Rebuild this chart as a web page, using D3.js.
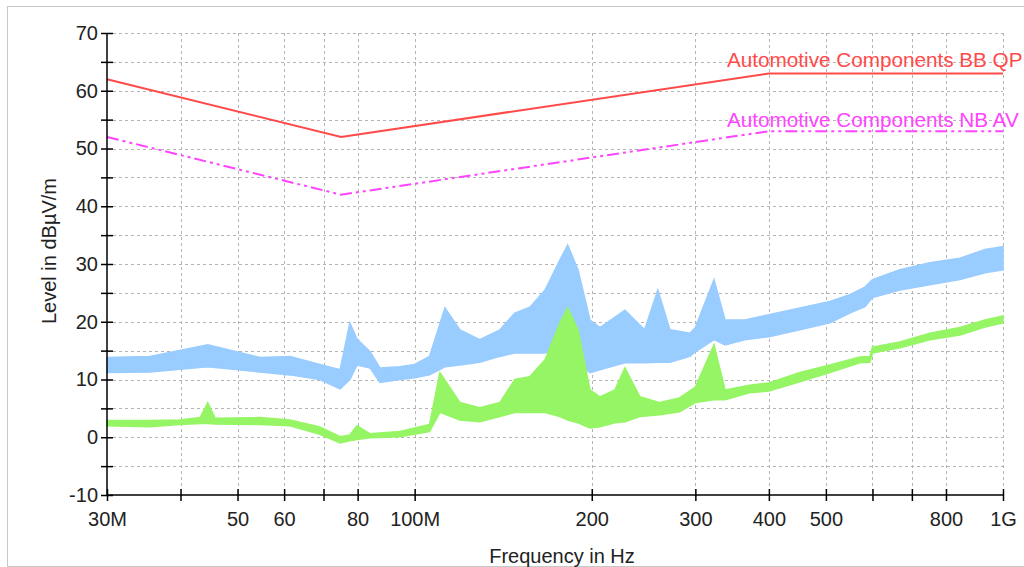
<!DOCTYPE html>
<html>
<head>
<meta charset="utf-8">
<script src="https://cdn.jsdelivr.net/npm/d3@7"></script>
<style>
  body { margin: 0; background: #fff; }
  svg { display: block; font-family: "Liberation Sans", Arial, sans-serif; }
</style>
</head>
<body>
<svg id="chart" width="1024" height="567"></svg>
<script>
// frequency ticks in MHz and their labels ("" = tick without label)
var xTicks = [30, 40, 50, 60, 70, 80, 100, 200, 300, 400, 500, 600, 700, 800, 1000];
var xTickLabels = ["30M", "", "50", "60", "", "80", "100M", "200", "300", "400", "500", "", "", "800", "1G"];
var yTicks = [-10, -5, 0, 5, 10, 15, 20, 25, 30, 35, 40, 45, 50, 55, 60, 65, 70];
var yTickLabels = ["-10", "", "0", "", "10", "", "20", "", "30", "", "40", "", "50", "", "60", "", "70"];

// limit lines
var limitFreq = [30, 75, 400, 1000];
var limitQP = [62, 52, 63, 63];
var limitAV = [52, 42, 53, 53];

// peak trace (blue): envelope of the noisy band
var peakFreq = [30, 35.5, 44.5, 54.6, 61.4, 69, 74.7, 77.6, 79.8, 84, 87.3, 94.4, 100, 106, 112.6, 119.4, 129, 139.6, 148, 157, 166.6, 176.6, 182, 189.5, 198.6, 206.5, 227.7, 246, 259, 271.6, 293.8, 300, 322.7, 337, 364, 400, 451.7, 508, 549, 582.5, 600, 668, 751, 845, 932, 1000];
var peakLo = [11.2, 11.3, 12.2, 11.3, 10.8, 10, 8.4, 10, 12.5, 12, 9.5, 10, 10.3, 10.8, 12.2, 12.5, 13, 14, 14.6, 14.6, 14.6, 15.7, 15.7, 12.9, 11.2, 11.7, 12.9, 12.9, 13, 13, 14, 14.8, 16.9, 16, 16.9, 17.4, 18.6, 19.8, 21.5, 22.6, 24.2, 25.5, 26.4, 27.3, 28.5, 29];
var peakHi = [13.8, 14, 16, 13.8, 14, 12.6, 11.7, 19.8, 17, 14.8, 12, 12.2, 12.6, 14, 22.4, 18.6, 16.9, 18.6, 21.5, 22.5, 25.5, 30.7, 33.3, 29, 20.3, 19, 22, 18.6, 25.5, 18.6, 18, 19, 27.3, 20.3, 20.3, 21.2, 22.4, 23.5, 24.7, 26, 27.3, 29, 30.2, 31, 32.5, 33];

// average trace (green): envelope of the noisy band
var avgFreq = [30, 35.5, 39.9, 43.2, 44.5, 45.8, 54.6, 61.4, 69, 74.7, 77.6, 79.8, 84, 94.4, 106, 110.4, 119.4, 129, 139.6, 148, 157, 166.6, 176.6, 182, 189.5, 198.6, 206.5, 219, 227.7, 241.5, 261, 282, 300, 322.7, 337, 371, 400, 451.7, 508, 571, 594, 600, 668, 751, 845, 932, 1000];
var avgLo = [2.0, 1.8, 2.2, 2.4, 2.4, 2.3, 2.2, 2.0, 0.5, -1, -0.6, -0.4, -0.1, 0.1, 1.0, 4.3, 3.0, 2.7, 3.6, 4.3, 4.3, 4.3, 3.6, 3.0, 2.5, 1.6, 1.8, 2.5, 2.7, 3.6, 3.9, 4.4, 6, 6.5, 6.5, 7.7, 8, 9.6, 11.2, 12.9, 13, 14.6, 15.5, 16.9, 17.7, 19.1, 19.8];
var avgHi = [2.9, 2.9, 3.0, 3.4, 6, 3.3, 3.4, 3.0, 1.8, 0.1, 0.4, 2.0, 0.6, 1.0, 2.2, 11.2, 6.0, 5.1, 6.0, 10, 10.5, 13.4, 19.8, 22.4, 18.6, 8.2, 7, 8.2, 12, 7, 6, 6.8, 8.7, 16, 8.2, 9, 9.4, 11.2, 12.5, 13.9, 14, 15.6, 16.5, 18, 19, 20.3, 21];

var svg = d3.select("#chart");
var plotLeft = 107, plotRight = 1003, plotTop = 33, plotBottom = 495;

var x = d3.scaleLog().domain([30, 1000]).range([plotLeft, plotRight]);
var y = d3.scaleLinear().domain([-10, 70]).range([plotBottom, plotTop]);

// outer frame
svg.append("rect")
  .attr("x", 7.5).attr("y", 6.5)
  .attr("width", 1030).attr("height", 560)
  .attr("fill", "none").attr("stroke", "#c8c8c8");

// grid
var grid = svg.append("g").attr("stroke", "#b4b4b4").attr("stroke-dasharray", "3,3");
grid.selectAll("line.gx")
  .data(xTicks.slice(1))
  .enter().append("line")
  .attr("x1", function(d) { return Math.round(x(d)) + 0.5; })
  .attr("x2", function(d) { return Math.round(x(d)) + 0.5; })
  .attr("y1", plotTop).attr("y2", plotBottom);
grid.selectAll("line.gy")
  .data(yTicks.slice(1))
  .enter().append("line")
  .attr("x1", plotLeft).attr("x2", plotRight)
  .attr("y1", function(d) { return Math.round(y(d)) + 0.5; })
  .attr("y2", function(d) { return Math.round(y(d)) + 0.5; });

// traces
function band(fr, lo, hi) {
  return d3.area()
    .x(function(d, i) { return x(fr[i]); })
    .y0(function(d, i) { return y(lo[i]); })
    .y1(function(d, i) { return y(hi[i]); })(fr);
}
svg.append("path")
  .attr("d", band(peakFreq, peakLo, peakHi))
  .attr("fill", "#99ccff").attr("stroke", "#99ccff").attr("stroke-width", 1.5);
svg.append("path")
  .attr("d", band(avgFreq, avgLo, avgHi))
  .attr("fill", "#96f564").attr("stroke", "#96f564").attr("stroke-width", 1.5);

// limit lines
function limitPath(vals) {
  return d3.line()
    .x(function(d, i) { return x(limitFreq[i]); })
    .y(function(d) { return y(d); })(vals);
}
svg.append("path")
  .attr("d", limitPath(limitQP))
  .attr("fill", "none").attr("stroke", "#ff4a4a").attr("stroke-width", 2);
svg.append("path")
  .attr("d", limitPath(limitAV))
  .attr("fill", "none").attr("stroke", "#ff44ff").attr("stroke-width", 2)
  .attr("stroke-dasharray", "12,4,3,4,3,4");

svg.append("text")
  .attr("x", 727).attr("y", 67)
  .attr("font-size", 20.7).attr("fill", "#ff4a4a")
  .text("Automotive Components BB QP");
svg.append("text")
  .attr("x", 727).attr("y", 127)
  .attr("font-size", 20.7).attr("fill", "#ff44ff")
  .text("Automotive Components NB AV");

// axes
var yAxis = d3.axisLeft(y)
  .tickValues(yTicks)
  .tickSize(5)
  .tickPadding(4)
  .tickFormat(function(d, i) { return yTickLabels[i]; });
var gy = svg.append("g").attr("transform", "translate(" + plotLeft + ",0)").call(yAxis);
gy.select(".domain").attr("d", "M0," + plotTop + "V" + plotBottom).attr("stroke-width", 1.5);
gy.selectAll(".tick line").attr("x1", 6).attr("x2", -6).attr("stroke-width", 1.5);
gy.selectAll(".tick text").attr("font-size", 20).attr("fill", "#222")
  .attr("font-family", "Liberation Sans, Arial, sans-serif");

var xAxis = d3.axisBottom(x)
  .tickValues(xTicks)
  .tickSize(5)
  .tickPadding(12)
  .tickFormat(function(d, i) { return xTickLabels[i]; });
var gx = svg.append("g").attr("transform", "translate(0," + plotBottom + ")").call(xAxis);
gx.select(".domain").attr("d", "M" + plotLeft + ",0H" + plotRight).attr("stroke-width", 1.5);
gx.selectAll(".tick line").attr("y1", -6).attr("y2", 6).attr("stroke-width", 1.5);
gx.selectAll(".tick text").attr("font-size", 20).attr("fill", "#222")
  .attr("font-family", "Liberation Sans, Arial, sans-serif");

// axis titles
svg.append("text")
  .attr("transform", "translate(56,251) rotate(-90)")
  .attr("text-anchor", "middle")
  .attr("font-size", 20).attr("fill", "#222")
  .text("Level in dBµV/m");
svg.append("text")
  .attr("x", 562).attr("y", 563)
  .attr("text-anchor", "middle")
  .attr("font-size", 20).attr("fill", "#222")
  .text("Frequency in Hz");
</script>
</body>
</html>
